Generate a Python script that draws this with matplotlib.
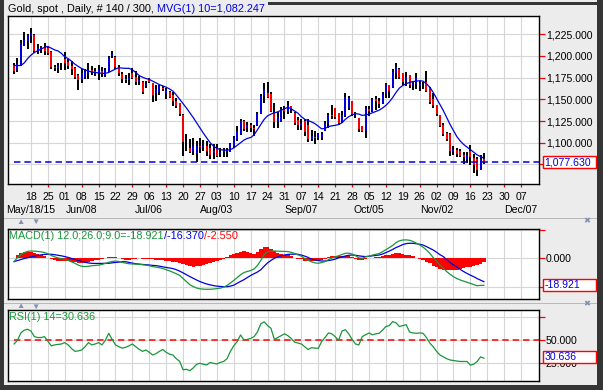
import matplotlib
matplotlib.use("Agg")
import matplotlib.pyplot as plt
from matplotlib.patches import Rectangle
import numpy as np

plt.rcParams['font.family'] = ['Liberation Sans', 'DejaVu Sans']

W, H = 603, 390

# daily bars, May 11 2015 .. Nov 20 2015 (weekdays)
opens = [1190, 1184, 1190, 1212, 1217, 1223, 1224, 1206, 1207, 1209,
         1209, 1205, 1187, 1186, 1188, 1197, 1193, 1189, 1186, 1178,
         1172, 1176, 1180, 1184, 1183, 1180, 1183, 1178, 1183, 1200,
         1199, 1187, 1179, 1174, 1172, 1180, 1176, 1170, 1170, 1165,
         1174, 1169, 1157, 1158, 1163, 1156, 1159, 1155, 1148, 1146,
         1132, 1101, 1094, 1090, 1088, 1096, 1095, 1096, 1094, 1088,
         1094, 1088, 1089, 1090, 1090, 1096, 1104, 1110, 1125, 1117,
         1120, 1117, 1120, 1133, 1154, 1157, 1156, 1134, 1124, 1124,
         1138, 1135, 1142, 1134, 1126, 1120, 1125, 1120, 1104, 1107,
         1105, 1105, 1114, 1123, 1132, 1140, 1134, 1124, 1131, 1140,
         1148, 1133, 1128, 1119, 1113, 1139, 1136, 1150, 1148, 1146,
         1156, 1167, 1164, 1180, 1185, 1180, 1170, 1178, 1167, 1168,
         1165, 1167, 1170, 1163, 1150, 1143, 1132, 1120, 1111, 1110,
         1090, 1092, 1091, 1086, 1081, 1090, 1082, 1081, 1069, 1081]
highs = [1192, 1198, 1218, 1228, 1225, 1232, 1225, 1214, 1212, 1215,
         1210, 1206, 1190, 1192, 1192, 1205, 1197, 1194, 1187, 1179,
         1185, 1185, 1192, 1189, 1186, 1190, 1187, 1186, 1200, 1206,
         1200, 1190, 1181, 1178, 1180, 1186, 1183, 1177, 1171, 1171,
         1175, 1169, 1167, 1167, 1165, 1163, 1160, 1158, 1152, 1146,
         1133, 1110, 1104, 1105, 1102, 1105, 1103, 1102, 1098, 1098,
         1098, 1094, 1094, 1094, 1100, 1108, 1119, 1127, 1126, 1124,
         1123, 1121, 1135, 1156, 1169, 1170, 1158, 1146, 1135, 1141,
         1142, 1148, 1142, 1135, 1130, 1127, 1127, 1127, 1115, 1113,
         1111, 1112, 1125, 1134, 1143, 1140, 1134, 1136, 1157, 1154,
         1148, 1135, 1129, 1119, 1142, 1142, 1152, 1154, 1152, 1159,
         1169, 1167, 1185, 1192, 1186, 1180, 1181, 1178, 1171, 1180,
         1171, 1170, 1183, 1164, 1157, 1144, 1132, 1123, 1112, 1111,
         1096, 1094, 1093, 1089, 1089, 1097, 1087, 1084, 1086, 1088]
lows = [1179, 1181, 1189, 1211, 1208, 1215, 1204, 1202, 1203, 1201,
        1201, 1185, 1183, 1180, 1184, 1184, 1185, 1178, 1173, 1161,
        1169, 1173, 1173, 1178, 1177, 1172, 1176, 1176, 1182, 1198,
        1185, 1177, 1169, 1169, 1167, 1173, 1166, 1167, 1156, 1163,
        1169, 1147, 1148, 1155, 1160, 1150, 1152, 1142, 1140, 1131,
        1085, 1090, 1088, 1086, 1078, 1088, 1090, 1085, 1081, 1081,
        1083, 1083, 1083, 1083, 1089, 1094, 1102, 1109, 1114, 1112,
        1112, 1108, 1119, 1133, 1146, 1152, 1135, 1117, 1117, 1124,
        1127, 1133, 1134, 1121, 1115, 1115, 1108, 1101, 1102, 1099,
        1103, 1103, 1113, 1117, 1127, 1127, 1121, 1123, 1130, 1138,
        1131, 1129, 1112, 1112, 1105, 1131, 1135, 1138, 1140, 1145,
        1151, 1151, 1163, 1174, 1173, 1167, 1165, 1163, 1161, 1162,
        1160, 1162, 1158, 1145, 1140, 1131, 1118, 1108, 1102, 1085,
        1086, 1084, 1083, 1076, 1077, 1074, 1065, 1062, 1069, 1076]
closes = [1183, 1191, 1215, 1219, 1224, 1226, 1206, 1209, 1210, 1206,
          1203, 1187, 1186, 1189, 1188, 1192, 1189, 1185, 1176, 1172,
          1180, 1182, 1184, 1181, 1180, 1184, 1179, 1184, 1199, 1202,
          1187, 1180, 1174, 1172, 1175, 1175, 1170, 1172, 1159, 1168,
          1170, 1155, 1162, 1165, 1162, 1161, 1153, 1148, 1142, 1133,
          1101, 1102, 1089, 1096, 1096, 1095, 1096, 1090, 1086, 1090,
          1085, 1089, 1091, 1092, 1098, 1106, 1114, 1125, 1116, 1120,
          1117, 1116, 1133, 1154, 1162, 1153, 1137, 1124, 1130, 1139,
          1137, 1144, 1139, 1123, 1120, 1123, 1112, 1104, 1108, 1106,
          1110, 1110, 1123, 1132, 1131, 1130, 1123, 1132, 1153, 1152,
          1133, 1133, 1116, 1113, 1140, 1136, 1150, 1148, 1145, 1156,
          1167, 1160, 1182, 1187, 1176, 1170, 1176, 1166, 1168, 1175,
          1168, 1166, 1160, 1147, 1143, 1133, 1119, 1110, 1104, 1090,
          1092, 1087, 1085, 1083, 1086, 1083, 1074, 1068, 1081, 1077.63]
mvg10 = [1189, 1189, 1189, 1192, 1197, 1201, 1204, 1206, 1208, 1210,
         1211, 1209, 1207, 1205.8, 1203, 1199, 1197, 1194, 1190.5, 1188,
         1185.5, 1184, 1182.5, 1181.5, 1181, 1180.5, 1180, 1180, 1181, 1183,
         1185, 1186.5, 1186, 1185.8, 1185.8, 1184, 1181, 1177.5, 1175.5, 1174,
         1173, 1171, 1169, 1167, 1165.5, 1164, 1162, 1159.5, 1155, 1150,
         1145, 1140, 1134.5, 1129, 1123, 1117, 1111, 1105.5, 1100, 1096,
         1093.5, 1092, 1091.5, 1091.5, 1092, 1094, 1097, 1100, 1103, 1105,
         1106, 1109, 1115, 1121, 1127, 1131, 1133, 1134.5, 1135.5, 1137.5,
         1139, 1141, 1139, 1136.5, 1134, 1130, 1127, 1125.5, 1124, 1122,
         1119, 1116, 1116.5, 1118.5, 1119.5, 1120, 1121, 1123, 1127, 1130,
         1132, 1133.5, 1133, 1131.5, 1132, 1133, 1134.5, 1136, 1137.5, 1140,
         1143, 1147, 1152, 1158, 1163, 1166, 1168, 1169.5, 1170.5, 1171,
         1171.5, 1171, 1168, 1164, 1158, 1151, 1144, 1137, 1129, 1121,
         1114, 1107, 1102, 1098, 1095, 1092, 1089, 1086, 1084, 1082.247]

macd = [-2.3, 0.5, 2.5, 4.0, 4.8, 5.1, 5.0, 4.8, 4.5, 4.0,
        3.2, 2.0, 1.0, 0.3, -0.3, -0.8, -1.5, -2.5, -3.5, -4.8,
        -5.6, -5.8, -5.6, -5.2, -5.0, -4.8, -4.3, -3.6, -2.8, -2.2,
        -2.0, -2.2, -2.8, -3.4, -3.8, -4.0, -4.1, -4.2, -4.5, -4.8,
        -5.2, -5.8, -6.2, -6.6, -7.2, -8.0, -8.8, -9.8, -10.8, -12.0,
        -14.2, -16.5, -18.5, -19.8, -20.8, -21.4, -21.6, -21.7, -21.7, -21.5,
        -21.2, -20.9, -20.2, -19.0, -17.3, -15.5, -13.5, -11.5, -10.0, -9.2,
        -8.6, -7.5, -5.0, -1.5, 2.5, 4.5, 5.0, 5.1, 5.0, 4.9,
        4.8, 4.7, 4.2, 3.4, 2.4, 1.5, -0.2, -1.4, -2.5, -3.2,
        -3.5, -3.0, -2.3, -1.0, 0.2, 1.0, 1.8, 2.6, 3.5, 3.6,
        3.0, 1.8, 0.3, 0.0, 1.0, 1.5, 2.2, 2.8, 3.3, 4.6,
        6.0, 7.5, 9.0, 11.0, 12.2, 12.8, 12.9, 12.6, 11.8, 10.6,
        9.4, 7.8, 5.8, 3.5, 0.5, -2.0, -4.7, -7.0, -9.3, -11.2,
        -12.9, -14.2, -15.2, -16.0, -16.8, -17.6, -18.4, -19.2, -19.0, -18.921]
signal = [-2.3, -1.6, -0.9, -0.2, 0.4, 1.0, 1.5, 2.0, 2.4, 2.7,
          2.8, 2.8, 2.5, 2.1, 1.7, 1.2, 0.6, -0.1, -0.8, -1.5,
          -2.2, -2.8, -3.3, -3.5, -3.6, -3.6, -3.6, -3.5, -3.5, -3.2,
          -2.9, -2.7, -2.4, -2.4, -2.9, -3.4, -3.8, -4.1, -4.3, -4.5,
          -4.7, -5.0, -5.1, -5.5, -6.0, -6.4, -6.8, -7.2, -8.0, -9.0,
          -10.2, -11.5, -12.8, -14.0, -15.2, -16.3, -17.2, -18.0, -18.6, -19.1,
          -19.5, -19.7, -19.9, -19.9, -19.5, -18.8, -17.5, -16.2, -15.0, -13.5,
          -12.0, -10.8, -9.6, -8.0, -5.5, -3.2, -1.5, 0.0, 1.0, 1.8,
          2.3, 2.7, 2.9, 2.9, 2.8, 2.2, 1.5, 0.6, -0.6, -1.2,
          -1.6, -1.9, -1.9, -1.6, -1.2, -0.6, 0.3, 1.0, 1.6, 2.1,
          2.3, 2.1, 1.7, 1.4, 1.2, 1.4, 1.7, 2.0, 2.3, 3.0,
          4.0, 5.0, 6.2, 7.5, 8.5, 9.6, 10.3, 10.5, 10.5, 10.2,
          9.8, 9.3, 8.2, 7.0, 5.8, 4.2, 2.5, 1.2, -1.0, -3.0,
          -4.7, -6.0, -7.8, -9.3, -10.6, -11.8, -12.9, -14.2, -15.3, -16.37]
rsi = [46, 50, 58, 61, 62, 60, 54, 53, 53, 54,
       49, 44, 45, 45.5, 46, 47.5, 45, 41, 38, 38.5,
       39.5, 43, 47.5, 45, 46, 47.5, 45, 50, 57.6, 51,
       45, 43, 41.5, 42.4, 44, 46, 43, 40.2, 38, 39.5,
       37, 34, 35.5, 38, 40, 37, 35, 34, 30, 27,
       18, 18.5, 17, 20, 24, 25, 24, 23.2, 26, 25,
       24.3, 26, 27, 30, 38, 44, 48.6, 55.8, 50.4, 51,
       52, 54, 59, 68, 70, 66, 63, 51, 53, 55,
       57, 55, 52, 48, 47, 46, 43, 40, 42, 41.5,
       41.3, 48.6, 53, 58, 57, 54, 50, 60, 61.5, 57,
       51, 46, 45, 54, 56, 58, 56, 57, 57.6, 61,
       65, 66, 70.3, 69, 65, 66, 67, 59, 58, 57.6,
       58, 57.6, 53, 47, 43, 38, 34, 32, 30, 28.6,
       28, 27.5, 27, 27, 27, 23, 24, 27, 32, 30.636]

day_labels = ['18', '25', '01', '08', '15', '22', '29', '06', '13', '20',
              '27', '03', '10', '17', '24', '31', '07', '14', '21', '28',
              '05', '12', '19', '26', '02', '09', '16', '23', '30', '07']
month_labels = {0: 'May/18/15', 3: 'Jun/08', 7: 'Jul/06', 11: 'Aug/03',
                16: 'Sep/07', 20: 'Oct/05', 24: 'Nov/02', 29: 'Dec/07'}
price_ticks = [1100, 1125, 1150, 1175, 1200, 1225]

BG = '#ececec'
GRID = '#d6d6d6'
GREEN = '#19963a'
BLUE = '#0000dd'
RED = '#ff0000'
FS = 7.6
TS = 7.8

x = np.arange(len(closes))
mondays = 5 + 5 * np.arange(len(day_labels))
xlim = (-1.8, 155.3)


def fbox(l, t, r, b):
    return [l / W, 1 - b / H, (r - l) / W, (b - t) / H]


fig = plt.figure(figsize=(W / 100, H / 100), dpi=100, facecolor=BG)

ax = fig.add_axes(fbox(8, 16, 539, 184))
ax_m = fig.add_axes(fbox(8, 229, 539, 299))
ax_r = fig.add_axes(fbox(8, 310, 539, 381))

for a in (ax, ax_m, ax_r):
    a.set_facecolor('white')
    a.set_xlim(*xlim)
    a.set_xticks(mondays)
    a.grid(True, color=GRID, linewidth=0.8)
    a.set_axisbelow(True)
    a.yaxis.tick_right()
    a.tick_params(axis='y', colors=RED, labelcolor='black', length=4, width=0.9,
                  pad=1, labelsize=FS)
    for s in a.spines.values():
        s.set_color('black')
        s.set_linewidth(1.0)

# ---- price panel
o = np.array(opens)
c = np.array(closes)
hi = np.maximum.reduce([np.array(highs), o, c])
lo = np.minimum.reduce([np.array(lows), o, c])
ax.vlines(x, lo, hi, color='black', linewidth=1.4)
body_col = [BLUE if cc >= oo else RED for oo, cc in zip(opens, closes)]
ax.vlines(x, np.minimum(o, c), np.maximum(o, c), colors=body_col, linewidth=1.4)
ax.plot(x, mvg10, color=BLUE, linewidth=0.9)
ax.plot([0, xlim[1]], [closes[-1]] * 2, color=BLUE, linewidth=1.1,
        linestyle=(0, (4.2, 2.6)))
ax.set_ylim(1052.4, 1246.1)
ax.set_yticks(price_ticks + [1075])
ax.set_yticklabels(['{:,.3f}'.format(v) for v in price_ticks] + [''])
ax.set_xticklabels(day_labels)
ax.tick_params(axis='x', colors=RED, labelcolor='black', length=2.5, width=0.9,
               pad=3.2, labelsize=FS)

# ---- MACD panel
hist = np.array(macd) - np.array(signal)
ax_m.bar(x, hist, width=1.0, color=RED, linewidth=0)
ax_m.plot(x, signal, color=BLUE, linewidth=0.9)
ax_m.plot(x, macd, color=GREEN, linewidth=0.9)
ax_m.set_ylim(-28.5, 20.5)
ax_m.set_yticks([-20, 0, 20])
ax_m.set_yticklabels(['', '0.000', ''])
ax_m.tick_params(axis='x', length=0, labelbottom=False)

# ---- RSI panel
ax_r.plot([0, xlim[1]], [50, 50], color=RED, linewidth=1.1,
          linestyle=(0, (4.2, 2.6)))
ax_r.plot(x, rsi, color=GREEN, linewidth=0.9)
ax_r.set_ylim(5.8, 82.9)
ax_r.set_yticks([25, 50, 75])
ax_r.set_yticklabels(['25.000', '50.000', ''])
ax_r.tick_params(axis='x', length=0, labelbottom=False)

# ---- text and chrome in pixel coordinates
renderer = fig.canvas.get_renderer()


def ftext(px, py, s, **kw):
    return fig.text(px / W, 1 - py / H, s, **kw)


def multi_text(px, py, parts, size=TS):
    for s, col in parts:
        t = ftext(px, py, s, color=col, fontsize=size, va='center', ha='left')
        px += t.get_window_extent(renderer=renderer).width


for k, lab in month_labels.items():
    ftext(14 + 3.38 * mondays[k], 210, lab, ha='center', va='center', fontsize=FS)

multi_text(8, 9, [('Gold, spot , Daily, # 140 / 300, ', 'black'),
                  ('MVG(1) 10=1,082.247', BLUE)])
multi_text(9, 236, [('MACD(1) 12.0;26.0;9.0=-18.921', GREEN), ('/-16.370', BLUE),
                    ('/-2.550', RED)])
multi_text(9, 317, [('RSI(1) 14=30.636', GREEN)])

for yc, s in [(162.1, '1,077.630'), (285.2, '-18.921'), (357.2, '30.636')]:
    fig.patches.append(Rectangle(((542.5) / W, 1 - (yc + 5.8) / H), 53 / W, 11.6 / H,
                                 transform=fig.transFigure, facecolor='white',
                                 edgecolor=RED, linewidth=1.0, zorder=5))
    ftext(544.5, yc + 0.3, s, color=BLUE, fontsize=FS, va='center', ha='left', zorder=6)

# header strips above the indicator panels
for ys in (217.5, 302.5):
    fig.lines.append(plt.Line2D([0, 1], [1 - ys / H] * 2, transform=fig.transFigure,
                                color='#b8b8b8', linewidth=0.7))
    ftext(20, ys + 4.5, '\u25b2', color='#8090b0', fontsize=6, ha='center', va='center')
    ftext(35, ys + 4.5, '\u25bc', color='#8090b0', fontsize=6, ha='center', va='center')
ftext(587, 222, '\u2716', color='#8090b0', fontsize=6, ha='center', va='center')
ftext(587, 305, '\u2716', color='#8090b0', fontsize=6, ha='center', va='center')

# dark window frame
DARK = '#353535'
for l, t, r, b in [(0, 0, 4, 390), (597, 0, 603, 390), (0, 384.5, 603, 390),
                   (268, 1.5, 603, 4.5)]:
    fig.patches.append(Rectangle((l / W, 1 - b / H), (r - l) / W, (b - t) / H,
                                 transform=fig.transFigure, facecolor=DARK,
                                 edgecolor='none', zorder=4))

fig.savefig('out.png', dpi=100, facecolor=BG)
